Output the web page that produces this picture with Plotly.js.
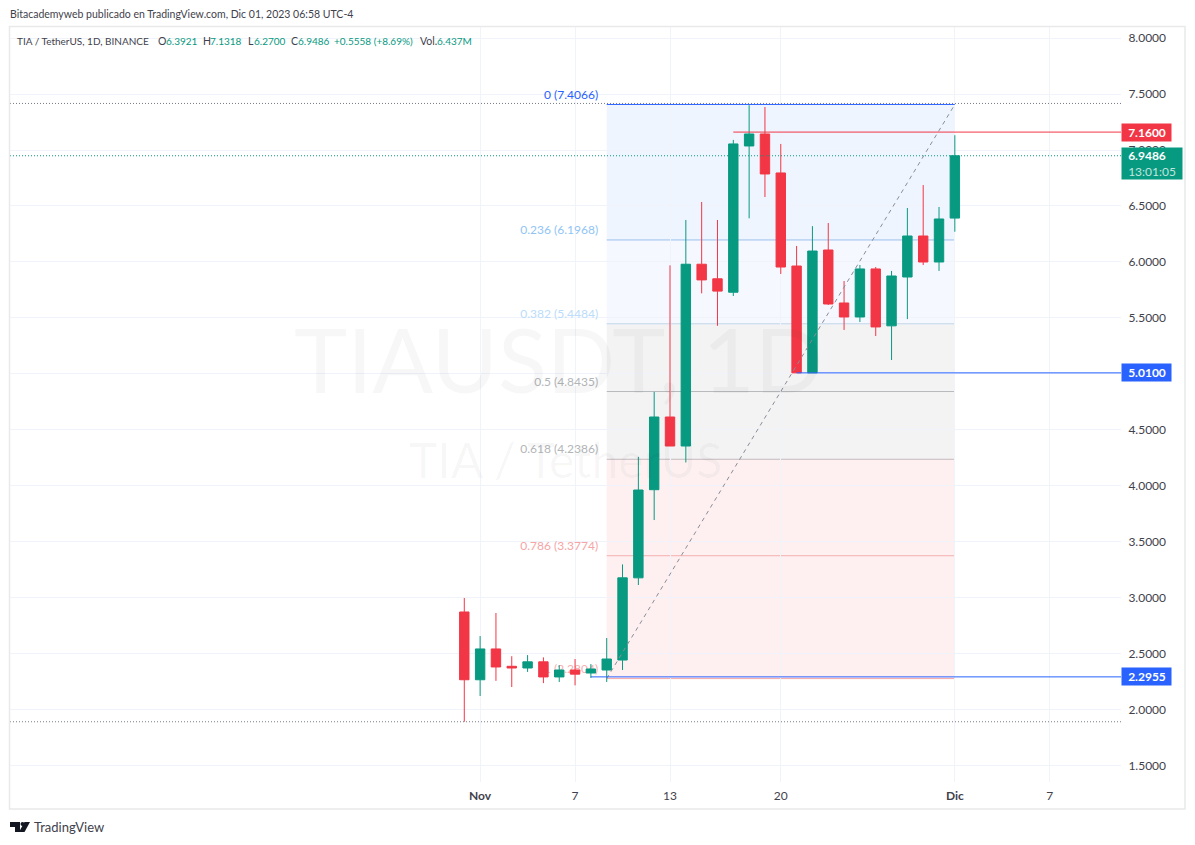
<!DOCTYPE html>
<html><head><meta charset="utf-8">
<script src="https://cdn.plot.ly/plotly-3.0.1.min.js"></script>
<style>html,body{margin:0;padding:0;background:#fff}#c{width:1195px;height:845px}</style>
</head><body><div id="c"></div>
<script>
const dates=['2023-10-31','2023-11-01','2023-11-02','2023-11-03','2023-11-04','2023-11-05','2023-11-06','2023-11-07','2023-11-08','2023-11-09','2023-11-10','2023-11-11','2023-11-12','2023-11-13','2023-11-14','2023-11-15','2023-11-16','2023-11-17','2023-11-18','2023-11-19','2023-11-20','2023-11-21','2023-11-22','2023-11-23','2023-11-24','2023-11-25','2023-11-26','2023-11-27','2023-11-28','2023-11-29','2023-11-30','2023-12-01'];
const opens =[2.875,2.27,2.545,2.39,2.375,2.43,2.295,2.357,2.33,2.357,2.446,3.18,3.967,4.616,4.357,5.98,5.85,5.73,7.036,7.143,6.795,5.964,5.01,6.107,5.634,5.509,5.938,5.43,5.866,6.232,6.0,6.3921];
const highs =[3.0,2.66,2.866,2.48,2.49,2.47,2.40,2.455,2.41,2.643,3.30,4.26,4.84,5.97,6.375,6.536,6.375,7.09,7.40,7.384,7.054,6.143,6.32,6.348,5.83,5.973,5.955,5.92,6.482,6.687,6.491,7.1318];
const lows  =[1.895,2.125,2.26,2.205,2.34,2.24,2.25,2.22,2.286,2.25,2.357,3.116,3.696,4.357,4.21,5.72,5.43,5.696,6.39,6.58,5.893,5.01,5.01,5.616,5.393,5.464,5.339,5.125,5.49,5.973,5.92,6.27];
const closes=[2.27,2.545,2.384,2.375,2.43,2.295,2.357,2.32,2.366,2.455,3.18,3.964,4.616,4.357,5.98,5.84,5.74,7.054,7.143,6.786,5.955,5.01,6.098,5.625,5.509,5.938,5.42,5.875,6.232,6.0,6.384,6.9486];

const fibRatios=['0','0.236','0.382','0.5','0.618','0.786','1'];
const fibLevels=[7.4066,6.1968,5.4484,4.8435,4.2386,3.3774,2.2804];
const fibLine =['#2962ff','#9cc0ea','#c0d6ea','#b7babd','#c4b9bc','#f2aeae','#f7a9a9'];
const fibFill =['#eef5ff','#f5f8ff','#f3f3f4','#f3f3f4','#fef0f1','#fef0f1'];
const fibText =['#2962ff','#90c4f5','#bbdcfb','#b2b5b8','#b2b5b8','#f5a5a5','#f7b0b0'];
const fibStart='2023-11-09', fibEnd='2023-12-01', fibLabelX='2023-11-08 11:00';

const priceTicks=[1.5,2,2.5,3,3.5,4,4.5,5,5.5,6,6.5,7,7.5,8];
const dayTicks=['2023-11-01','2023-11-07','2023-11-13','2023-11-20','2023-12-01','2023-12-07'];
const dayLabels=['<b>Nov</b>','7','13','20','<b>Dic</b>','7'];

const hLevels=[7.16,5.01,2.2955];
const hStarts=['2023-11-17','2023-11-21','2023-11-08'];
const hColors=['#f23645','#2962ff','#2962ff'];
const dotLevels=[7.4157,6.9486,1.895];
const dotColors=['#787b86','#089981','#787b86'];

const headerTexts=['O','H','L','C','Vol.'];
const headerTextX=[156,201,246,289,418];
const headerValues=['6.3921','7.1318','6.2700','6.9486','+0.5558 (+8.69%)','6.437M'];
const headerValueX=[164,208,252,296,332,435];

const FONT='Lato, sans-serif';
const L=10,R=1121,T=27,B=782;
const px=x=>(x-L)/(R-L), py=y=>(B-y)/(B-T);
const xRange=['2023-10-02 07:00','2023-12-11 12:00'], yRange=[1.357,8.0982];
const UP='#089981',DN='#f23645';

const shapes=[];
fibFill.forEach((c,i)=>shapes.push({type:'rect',layer:'below',xref:'x',yref:'y',x0:fibStart,x1:fibEnd,y0:fibLevels[i+1],y1:fibLevels[i],fillcolor:c,line:{width:0}}));
fibLevels.forEach((v,i)=>shapes.push({type:'line',layer:i===0?'above':'below',xref:'x',yref:'y',x0:fibStart,x1:fibEnd,y0:v,y1:v,line:{color:fibLine[i],width:1}}));
shapes.push({type:'line',xref:'x',yref:'y',x0:fibStart,x1:fibEnd,y0:fibLevels[6],y1:fibLevels[0],line:{color:'#8a8d97',width:1,dash:'4px 4px'}});
dotLevels.forEach((v,i)=>shapes.push({type:'line',xref:'paper',yref:'y',x0:0,x1:1,y0:v,y1:v,line:{color:dotColors[i],width:1,dash:'1px 2px'}}));
hLevels.forEach((v,i)=>shapes.push({type:'line',xref:'x',yref:'y',x0:hStarts[i],x1:xRange[1],y0:v,y1:v,line:{color:hColors[i],width:1}}));
shapes.push({type:'rect',xref:'paper',yref:'paper',x0:px(9.5),x1:px(1185),y0:py(809),y1:py(26.5),line:{color:'#e9e9e9',width:1.5},fillcolor:'rgba(0,0,0,0)'});
// TradingView mark
shapes.push({type:'path',xref:'paper',yref:'paper',path:`M${px(10)},${py(822)} L${px(20)},${py(822)} L${px(20)},${py(832)} L${px(15)},${py(832)} L${px(15)},${py(827)} L${px(10)},${py(827)} Z`,fillcolor:'#131722',line:{width:0}});
shapes.push({type:'path',xref:'paper',yref:'paper',path:`M${px(24.5)},${py(822)} L${px(30)},${py(822)} L${px(24.5)},${py(832)} L${px(19)},${py(832)} Z`,fillcolor:'#131722',line:{width:0}});
shapes.push({type:'circle',xref:'paper',yref:'paper',x0:px(20.5),x1:px(24.5),y0:py(826),y1:py(822),fillcolor:'#131722',line:{width:0}});

const ann=[];
const txt=(x,y,text,size,color,extra)=>ann.push(Object.assign({xref:'paper',yref:'paper',x:px(x),y:py(y),text,showarrow:false,xanchor:'left',yanchor:'middle',align:'left',font:{family:FONT,size,color}},extra||{}));
txt(8,14,'Bitacademyweb publicado en TradingView.com, Dic 01, 2023 06:58 UTC-4',10.5,'#3f424c');
txt(15,41,'TIA / TetherUS, 1D, BINANCE',10,'#3f424c');
headerTexts.forEach((t,i)=>txt(headerTextX[i],41,t,10.5,'#3f424c'));
headerValues.forEach((t,i)=>txt(headerValueX[i],41,t,10,UP));
txt(32,827,'TradingView',13,'#3f424c');
txt(558,358,'TIAUSDT, 1D',90,'rgba(19,23,34,0.035)',{xanchor:'center'});
txt(565,460,'TIA / TetherUS',48,'rgba(19,23,34,0.035)',{xanchor:'center'});
const sp='&nbsp;&nbsp;';
const tag=(v,color,text,w,h,ys)=>ann.push({xref:'paper',yref:'y',x:1,y:v,xanchor:'left',yanchor:'middle',yshift:ys,showarrow:false,align:'left',text,width:w,height:h,bgcolor:color,borderpad:0,font:{family:FONT,size:12,color:'#fff'}});
tag(hLevels[0],hColors[0],sp+'<b>7.1600</b>',49,17,0);
tag(closes[closes.length-1],UP,sp+'<b>6.9486</b><br>'+sp+'<span style="color:#c2e6df">13:01:05</span>',60,31,-7.5);
tag(hLevels[1],hColors[1],sp+'<b>5.0100</b>',49,17,0);
tag(hLevels[2],hColors[2],sp+'<b>2.2955</b>',49,17,0);

const axisFont={family:FONT,size:12,color:'#3f424c'};
const fibLabels=fibRatios.map((r,i)=>r+' ('+fibLevels[i].toFixed(4)+')');
Plotly.newPlot('c',[{
  type:'scatter',mode:'text',x:fibLevels.map(()=>fibLabelX),y:fibLevels.map(v=>v+0.08),text:fibLabels,
  textposition:'middle left',textfont:{family:FONT,size:12,color:fibText},showlegend:false,hoverinfo:'skip'
},{
  type:'candlestick',x:dates,open:opens,high:highs,low:lows,close:closes,xaxis:'x2',yaxis:'y2',
  increasing:{line:{color:UP,width:1},fillcolor:UP},decreasing:{line:{color:DN,width:1},fillcolor:DN},
  whiskerwidth:0,showlegend:false,hoverinfo:'skip'
}],{
  width:1195,height:845,paper_bgcolor:'#fff',plot_bgcolor:'#fff',showlegend:false,boxgap:0.15,
  margin:{l:L,r:1195-R,t:T,b:845-B},
  xaxis:{type:'date',range:xRange,tickmode:'array',tickvals:dayTicks,ticktext:dayLabels,showgrid:true,gridcolor:'#f0f3fa',gridwidth:1,zeroline:false,showline:false,ticks:'outside',ticklen:3,tickcolor:'rgba(0,0,0,0)',tickfont:axisFont,rangeslider:{visible:false},fixedrange:true},
  yaxis:{side:'right',range:yRange,tickmode:'array',tickvals:priceTicks,tickformat:'.4f',showgrid:true,gridcolor:'#f0f3fa',gridwidth:1,zeroline:false,showline:false,ticks:'outside',ticklen:4,tickcolor:'rgba(0,0,0,0)',tickfont:axisFont,fixedrange:true},
  xaxis2:{type:'date',range:xRange,overlaying:'x',visible:false,rangeslider:{visible:false},fixedrange:true},
  yaxis2:{range:yRange,overlaying:'y',visible:false,side:'right',fixedrange:true},
  shapes,annotations:ann
},{displayModeBar:false,staticPlot:true});
</script></body></html>
